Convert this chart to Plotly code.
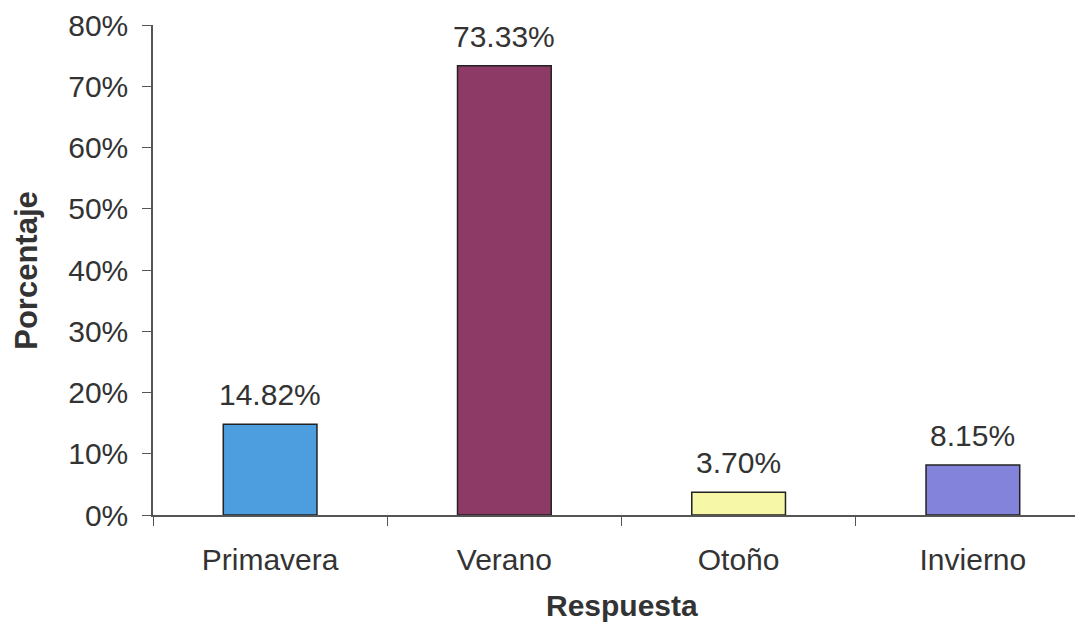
import plotly.graph_objects as go

categories = ["Primavera", "Verano", "Otoño", "Invierno"]
values = [14.82, 73.33, 3.70, 8.15]
labels = ["14.82%", "73.33%", "3.70%", "8.15%"]
colors = ["#4d9ede", "#8e3a66", "#f7f7a8", "#8383dc"]
y_ticks = [0, 10, 20, 30, 40, 50, 60, 70, 80]
y_tick_text = ["0%", "10%", "20%", "30%", "40%", "50%", "60%", "70%", "80%"]

FONT = "Liberation Sans, Arial, sans-serif"
TXT = "#333333"
FS = 30

fig = go.Figure()
fig.add_trace(go.Bar(
    x=categories, y=values, width=0.4,
    marker=dict(color=colors, line=dict(color="#222222", width=1.5)),
    hoverinfo="skip",
))

annotations = []
for c, v, t in zip(categories, values, labels):
    annotations.append(dict(x=c, y=v, text=t, showarrow=False, yanchor="bottom",
                            yshift=11, font=dict(family=FONT, size=FS, color=TXT)))
annotations.append(dict(x=1.5, xref="x", y=-0.1837, yref="paper", yanchor="middle",
                        text="<b>Respuesta</b>", showarrow=False,
                        font=dict(family=FONT, size=30, color=TXT)))
annotations.append(dict(text="<b>Porcentaje</b>", textangle=-90, showarrow=False,
                        xref="paper", yref="paper", x=-0.138, y=0.5,
                        xanchor="center", yanchor="middle",
                        font=dict(family=FONT, size=31, color=TXT)))

fig.update_layout(
    width=1075, height=633,
    margin=dict(l=153, r=0, t=25, b=118),
    paper_bgcolor="white", plot_bgcolor="white",
    showlegend=False,
    font=dict(family=FONT, size=FS, color=TXT),
    xaxis=dict(
        type="category", range=[-0.5, 3.436],
        showline=True, linecolor="#555555", linewidth=1.5,
        ticks="outside", tickson="boundaries", ticklen=9, tickcolor="#555555",
        tickfont=dict(family=FONT, size=FS, color=TXT),
        ticklabelstandoff=17,
        showgrid=False, zeroline=False,
    ),
    yaxis=dict(
        range=[0, 80], tickvals=y_ticks, ticktext=y_tick_text,
        showline=True, linecolor="#555555", linewidth=1.5,
        ticks="outside", ticklen=9, tickcolor="#555555",
        tickfont=dict(family=FONT, size=FS, color=TXT),
        ticklabelstandoff=8,
        showgrid=False, zeroline=False,
    ),
    annotations=annotations,
)

fig.write_html("out.html", config={"displayModeBar": False},
               post_script="document.body.style.margin='0';")
